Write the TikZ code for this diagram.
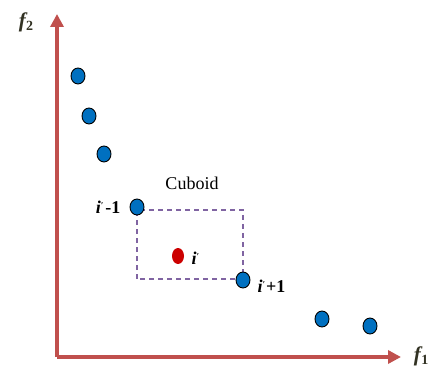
\documentclass[tikz,border=0pt]{standalone}
\usepackage{fontspec}
\setmainfont{Liberation Serif}
\usetikzlibrary{shapes.geometric,arrows.meta}
\definecolor{axisred}{RGB}{192,80,77}
\definecolor{dotblue}{RGB}{0,112,192}
\definecolor{boxpurple}{RGB}{128,100,162}
\definecolor{dotred}{RGB}{204,0,0}
\definecolor{axtext}{RGB}{50,50,35}
\tikzset{
  pt/.style={ellipse,draw=black,line width=0.9pt,fill=dotblue,minimum width=14pt,minimum height=16pt,inner sep=0pt},
  redpt/.style={ellipse,fill=dotred,minimum width=12pt,minimum height=16pt,inner sep=0pt},
  axis/.style={draw=axisred,line width=3.5pt,-{Triangle[length=13pt,width=13pt]}},
  lbl/.style={font=\fontsize{18}{20}\selectfont\bfseries},
  axlbl/.style={font=\fontsize{21}{23}\selectfont\bfseries\itshape,text=axtext},
}
\newcommand{\ipr}{\textit{i}\raisebox{5pt}{\fontsize{9}{10}\selectfont\textit{\char"2032}}}
\begin{document}
\begin{tikzpicture}[x=1pt,y=-1pt]
\useasboundingbox (0,0) rectangle (433,371);
\coordinate (O) at (57,357);
\coordinate (Ytip) at (57,14);
\coordinate (Xtip) at (401,357);
\draw[axis] (O) -- (Ytip);
\draw[axis] (O) -- (Xtip);
\node[axlbl] (f2) at (26,22) {f\kern0.5pt\raisebox{-3pt}{\fontsize{14}{15}\selectfont\upshape\bfseries 2}};
\node[axlbl] (f1) at (421,356) {f\kern0.5pt\raisebox{-3pt}{\fontsize{14}{15}\selectfont\upshape\bfseries 1}};
\coordinate (bl) at (137,279);
\coordinate (tr) at (243,210);
\draw[boxpurple,line width=1.2pt,dash pattern=on 5pt off 4pt] (bl) rectangle (tr);
\node[pt] (p1) at (78,76) {};
\node[pt] (p2) at (89,116) {};
\node[pt] (p3) at (104,154) {};
\node[pt] (p4) at (137,207) {};
\node[pt] (p5) at (243,280) {};
\node[pt] (p6) at (322,319) {};
\node[pt] (p7) at (370,326) {};
\node[redpt] (pr) at (178,256) {};
\node[font=\fontsize{18}{20}\selectfont] (cub) at (192,183) {Cuboid};
\node[lbl,anchor=east] (l1) at (124,207) {\ipr\kern2pt-1};
\node[lbl,anchor=west] (l2) at (188,258) {\ipr};
\node[lbl,anchor=west] (l3) at (254,286) {\ipr\kern1pt+1};
\end{tikzpicture}
\end{document}
